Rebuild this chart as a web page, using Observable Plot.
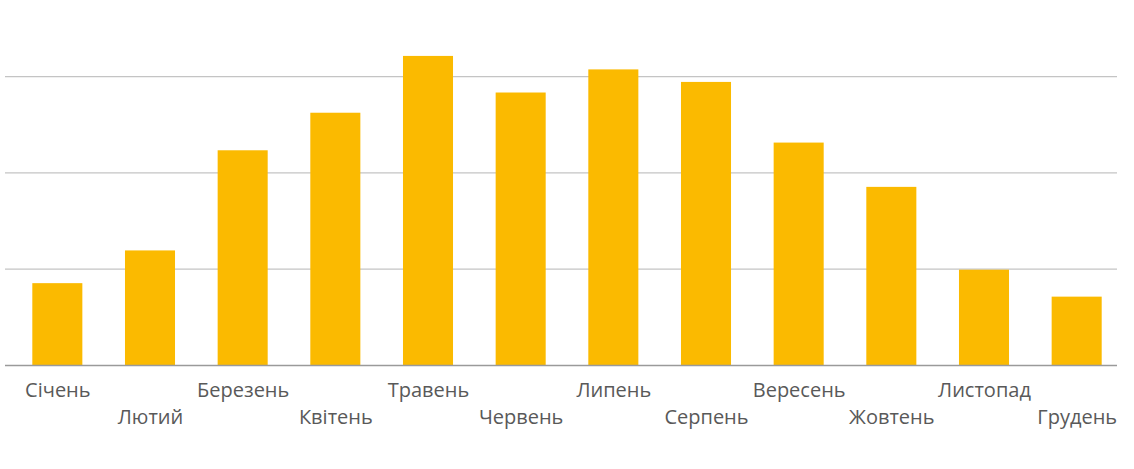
<!DOCTYPE html>
<html>
<head>
<meta charset="utf-8">
<script src="https://cdn.jsdelivr.net/npm/d3@7"></script>
<script src="https://cdn.jsdelivr.net/npm/@observablehq/plot@0.6"></script>
<style>
  html, body { margin: 0; padding: 0; background: #fff; }
  #chart { width: 1134px; height: 469px; }
</style>
</head>
<body>
<div id="chart"></div>
<script>
const months = ["Січень", "Лютий", "Березень", "Квітень", "Травень", "Червень",
                "Липень", "Серпень", "Вересень", "Жовтень", "Листопад", "Грудень"];
const values = [0.85, 1.19, 2.23, 2.62, 3.21, 2.83, 3.07, 2.94, 2.31, 1.85, 0.99, 0.71];
const gridTicks = [1, 2, 3];

const data = months.map((m, i) => ({month: m, value: values[i]}));
const row1 = months.filter((m, i) => i % 2 === 0);
const row2 = months.filter((m, i) => i % 2 === 1);

const chart = Plot.plot({
  width: 1134,
  height: 469,
  marginTop: 28,
  marginBottom: 104,
  marginLeft: 11,
  marginRight: 11,
  style: {fontFamily: "Open Sans", background: "#fff"},
  x: {domain: months, paddingInner: 0.46, paddingOuter: 0.23, round: false, axis: null},
  y: {domain: [0, 3.5], axis: null},
  marks: [
    Plot.ruleY(gridTicks, {stroke: "#c4c4c4", strokeWidth: 1.2, insetLeft: -6, insetRight: 6}),
    Plot.barY(data, {x: "month", y: "value", fill: "#FBBA00"}),
    Plot.ruleY([0], {stroke: "#9a9a9a", strokeWidth: 1.5, insetLeft: -6, insetRight: 6}),
    Plot.axisX({ticks: row1, tickSize: 0, tickPadding: 17, fontSize: 20, fill: "#595959", fontWeight: 500, label: null}),
    Plot.axisX({ticks: row2, tickSize: 0, tickPadding: 44, fontSize: 20, fill: "#595959", fontWeight: 500, label: null})
  ]
});
document.getElementById("chart").appendChild(chart);
</script>
</body>
</html>
